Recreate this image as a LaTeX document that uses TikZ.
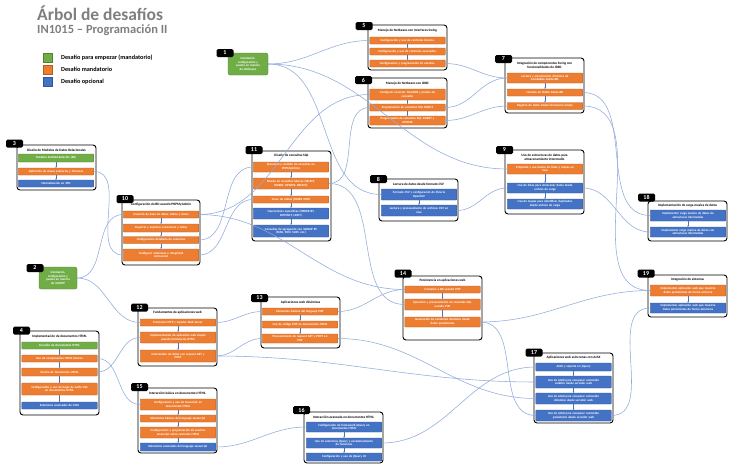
\documentclass[tikz,border=0pt]{standalone}
\usepackage{fontspec}
\setmainfont{Carlito}
\usetikzlibrary{arrows.meta}
\definecolor{orng}{HTML}{ED7D31}
\definecolor{blu}{HTML}{4472C4}
\definecolor{grn}{HTML}{70AD47}
\definecolor{lnk}{HTML}{8FAADC}
\definecolor{ttlgray}{HTML}{7F7F7F}
\newcommand\Cont[4]{\draw[cont] (#1,#2) rectangle (#3,#4);}
\begin{document}
\begin{tikzpicture}[x=1pt,y=-1pt,
 item/.style={rectangle, rounded corners=0.6pt, minimum width=75.5pt, text width=74pt, align=center, inner sep=0.4pt, text=white, font=\fontsize{3.1}{3.7}\selectfont\bfseries, line width=0.3pt},
 og/.style={item, fill=orng, draw=orng!75!black},
 bl/.style={item, fill=blu, draw=blu!75!black},
 gr/.style={item, fill=grn, draw=grn!75!black},
 cont/.style={draw=black, line width=0.9pt, rounded corners=3pt, fill=white},
 tag/.style={fill=black, rounded corners=1.5pt, text=white, font=\fontsize{6}{6}\selectfont\bfseries, minimum width=17pt, minimum height=8pt, inner sep=0pt},
 ttl/.style={font=\fontsize{3.4}{4}\selectfont\bfseries, align=center, inner sep=0pt},
 conn/.style={draw=lnk, line width=0.55pt},
 arr/.style={draw=blu, line width=0.3pt, -{Stealth[length=1.4pt,width=1.4pt]}},
 lgd/.style={anchor=west, font=\fontsize{6.2}{6.2}\selectfont\bfseries, inner sep=0pt},
 sq/.style={minimum size=9pt, inner sep=0pt, line width=0.3pt},
]
\fill[white] (0,0) rectangle (732,469);
\useasboundingbox (0,0) rectangle (732,469);

% title
\node[anchor=north west, inner sep=0pt, text=ttlgray, font=\fontsize{17.5}{17.5}\selectfont\bfseries] (title) at (37,6) {Árbol de desafíos};
\node[anchor=north west, inner sep=0pt, text=ttlgray, font=\fontsize{12.5}{12.5}\selectfont\bfseries] (subtitle) at (37,25) {IN1015 – Programación II};

% legend
\node[sq, fill=grn, draw=grn!75!black] (lg1) at (47.5,57.5) {};
\node[sq, fill=orng, draw=orng!75!black] (lg2) at (47.5,69.5) {};
\node[sq, fill=blu, draw=blu!75!black] (lg3) at (47.5,81.5) {};
\node[lgd] (lt1) at (61,57.5) {Desafío para empezar (mandatorio)};
\node[lgd] (lt2) at (61,69.5) {Desafío mandatorio};
\node[lgd] (lt3) at (61,81.5) {Desafío opcional};

% 1
\node[gr, minimum width=40pt, text width=36pt, minimum height=22pt, rounded corners=2pt] (n1) at (248,64) {Instalación,\\configuración y\\puesta en marcha\\de Netbeans};
\node[tag] (t1) at (225,53) {1};

% 2
\node[gr, minimum width=38pt, text width=36pt, minimum height=22pt, rounded corners=2pt] (n2) at (58,278) {Instalación,\\configuración y\\puesta en marcha\\de XAMPP};
\node[tag] (t2) at (35,268) {2};

% 3
\Cont{17}{145}{96}{190}
\node[ttl] (h3) at (56.5,150) {Diseño de Modelos de Datos Relacionales};
\node[gr, minimum height=8pt] (n3a) at (56,158) {Modelos Entidad-Relación (ER)};
\node[og, minimum height=7pt] (n3b) at (56,171.5) {Definición de claves primarias y foráneas};
\node[bl, minimum height=7pt] (n3c) at (56,183.5) {Normalización en 3FN};
\node[tag] (t3) at (14.5,143.5) {3};

% 4
\Cont{20}{331}{99}{415}
\node[ttl] (h4) at (59.5,337) {Implementación de documentos HTML};
\node[gr, minimum height=7pt] (n4a) at (59.5,345.5) {Creación de documentos HTML};
\node[og, minimum height=7pt] (n4b) at (59.5,358.5) {Uso de componentes HTML básicos};
\node[og, minimum height=8pt] (n4c) at (59.5,372) {Diseño de formularios HTML};
\node[og, minimum height=12pt] (n4d) at (59.5,389) {Configuración y uso de hojas de estilo CSS\\en documentos HTML};
\node[bl, minimum height=7pt] (n4e) at (59.5,405.5) {Selectores avanzados de CSS3};
\node[tag] (t4) at (21.5,330.5) {4};

% 5
\Cont{368}{25}{447}{70}
\node[ttl] (h5) at (407.5,31) {Manejo de Netbeans con Interfaces Swing};
\node[og, minimum height=7pt] (n5a) at (407.5,40.5) {Configuración y uso de controles básicos.};
\node[og, minimum height=7pt] (n5b) at (407.5,51.5) {Configuración y uso de controles avanzados.};
\node[og, minimum height=7pt] (n5c) at (407.5,63.5) {Configuración y programación de eventos.};
\node[tag] (t5) at (364,26) {5};

% 6
\Cont{368}{78}{447}{128}
\node[ttl] (h6) at (407.5,84) {Manejo de Netbeans con JDBC};
\node[og, minimum height=11pt] (n6a) at (407.5,94.5) {Configurar conector MariaDB y prueba de\\conexión};
\node[og, minimum height=7pt] (n6b) at (407.5,107.5) {Programación de consultas SQL SELECT};
\node[og, minimum height=9pt] (n6c) at (407.5,120.5) {Programación de consultas SQL INSERT y\\UPDATE};
\node[tag] (t6) at (363.5,80) {6};

% 7
\Cont{505}{58}{584}{113}
\node[ttl] (h7) at (544.5,65.5) {Integración de componentes Swing con\\funcionalidades de JDBC};
\node[og, minimum height=10pt] (n7a) at (545,78) {Lectura y actualización dinámica de\\ComboBox desde BD.};
\node[og, minimum height=7pt] (n7b) at (545,92.5) {Llenado de JTable desde BD};
\node[og, minimum height=7pt] (n7c) at (545,106) {Registro de datos desde formulario simple};
\node[tag] (t7) at (503.5,59) {7};

% 8
\Cont{379}{179}{458}{221}
\node[ttl] (h8) at (418.5,184.5) {Lectura de datos desde formato CSV};
\node[bl, minimum height=11pt] (n8a) at (419,194.5) {Formato CSV y configuración de librería\\OpenCSV};
\node[bl, minimum height=11pt] (n8b) at (419,210.5) {Lectura y procesamiento de archivos CSV en\\Java};
\node[tag] (t8) at (378.5,179) {8};

% 9
\Cont{505}{150}{584}{214}
\node[ttl] (h9) at (544.5,157) {Uso de estructuras de datos para\\almacenamiento intermedio};
\node[og, minimum height=10pt] (n9a) at (545,169) {Propósito y uso básico de listas y mapas en\\Java};
\node[bl, minimum height=10pt] (n9b) at (545,188) {Uso de listas para almacenar datos desde\\archivo de carga};
\node[bl, minimum height=10pt] (n9c) at (545,204) {Uso de mapas para identificar duplicados\\desde archivo de carga};
\node[tag] (t9) at (504.5,150) {9};

% 10
\Cont{122}{200}{200}{265}
\node[ttl] (h10) at (161,205) {Configuración de BD usando PHPMyAdmin};
\node[og, minimum height=7pt] (n10a) at (161,214.5) {Creación de base de datos, tablas y datos};
\node[og, minimum height=8pt] (n10b) at (161,228) {Importar y exportar estructuras y datos};
\node[og, minimum height=7pt] (n10c) at (161,240) {Configuración detallada de columnas};
\node[og, minimum height=12pt] (n10d) at (161,255) {Configurar relaciones e integridad\\referencial};
\node[tag] (t10) at (125,199) {10};

% 11
\Cont{252}{151}{331}{241}
\node[ttl] (h11) at (291.5,156) {Diseño de consultas SQL};
\node[og, minimum height=10pt] (n11a) at (291,167) {Ejecución y revisión de consultas en\\PHPMyAdmin};
\node[og, minimum height=11pt] (n11b) at (291,183.5) {Diseño de consultas básicas (SELECT,\\INSERT, UPDATE, DELETE)};
\node[og, minimum height=7pt] (n11c) at (291,199.5) {Cruce de tablas (INNER JOIN)};
\node[bl, minimum height=11pt] (n11d) at (291,213.5) {Operaciones específicas (ORDER BY,\\DISTINCT, LIMIT)};
\node[bl, minimum height=12pt] (n11e) at (291,231) {Consultas de agregación con GROUP BY\\(MAX, MIN, SUM, etc.)};
\node[tag] (t11) at (254,150) {11};

% 12
\Cont{138}{308}{217}{366}
\node[ttl] (h12) at (177.5,313) {Fundamentos de aplicaciones web};
\node[og, minimum height=7pt] (n12a) at (178,322.5) {Protocolo HTTP y Apache Web Server};
\node[og, minimum height=11pt] (n12b) at (178,337.5) {Implementación de aplicación web simple\\usando formularios HTML};
\node[og, minimum height=12pt] (n12c) at (178,356) {Intercambio de datos con request GET y\\POST};
\node[tag] (t12) at (139.5,307.5) {12};

% 13
\Cont{261}{297}{340}{348}
\node[ttl] (h13) at (300.5,302.5) {Aplicaciones web dinámicas};
\node[og, minimum height=7pt] (n13a) at (300,311.5) {Elementos básicos del lenguaje PHP};
\node[og, minimum height=7pt] (n13b) at (300,324.5) {Uso de código PHP en documentos HTML};
\node[og, minimum height=9pt] (n13c) at (300,338.5) {Procesamiento de request GET y POST en\\PHP};
\node[tag] (t13) at (259.5,298) {13};

% 14
\Cont{403}{276}{482}{340}
\node[ttl] (h14) at (442.5,281) {Persistencia en aplicaciones web};
\node[og, minimum height=7pt] (n14a) at (442.5,289.5) {Conexión a BD usando PHP};
\node[og, minimum height=11pt] (n14b) at (442.5,304.5) {Ejecución y procesamiento de consultas SQL\\usando PHP};
\node[og, minimum height=10pt] (n14c) at (442.5,322) {Generación de contenido dinámico desde\\datos persistentes};
\node[tag] (t14) at (403,273.5) {14};

% 15
\Cont{138}{388}{217}{453}
\node[ttl] (h15) at (177.5,393) {Interacción básica en documentos HTML};
\node[og, minimum height=11pt] (n15a) at (178,404.5) {Configuración y uso de Javascript en\\documentos HTML};
\node[og, minimum height=7pt] (n15b) at (178,418.5) {Elementos básicos del lenguaje Javascript};
\node[og, minimum height=11pt] (n15c) at (178,432.5) {Configuración y programación de eventos\\Javascript sobre controles HTML};
\node[bl, minimum height=8pt] (n15d) at (178,447) {Elementos avanzados del lenguaje Javascript};
\node[tag] (t15) at (139.5,387) {15};

% 16
\Cont{304}{412}{383}{463}
\node[ttl] (h16) at (343.5,417) {Interacción avanzada en documentos HTML};
\node[bl, minimum height=10pt] (n16a) at (344,427) {Configuración de framework jQuery en\\documentos HTML};
\node[bl, minimum height=10pt] (n16b) at (344,443) {Uso de selectores jQuery y encadenamiento\\de funciones};
\node[bl, minimum height=8pt] (n16c) at (344,457) {Configuración y uso de jQuery UI};
\node[tag] (t16) at (301.5,410) {16};

% 17
\Cont{534}{353}{613}{423}
\node[ttl] (h17) at (573.5,358) {Aplicaciones web asíncronas con AJAX};
\node[bl, minimum height=8pt] (n17a) at (573.5,367) {AJAX y soporte en jQuery};
\node[bl, minimum height=12pt] (n17b) at (573.5,382) {Uso de AJAX para recuperar contenido\\estático desde servidor web};
\node[bl, minimum height=11pt] (n17c) at (573.5,398.5) {Uso de AJAX para recuperar contenido\\dinámico desde servidor web};
\node[bl, minimum height=11pt] (n17d) at (573.5,415.5) {Uso de AJAX para recuperar contenido\\persistente desde servidor web};
\node[tag] (t17) at (534,352.5) {17};

% 18
\Cont{648}{201}{727}{241}
\node[ttl] (h18) at (687.5,206) {Implementación de carga masiva de datos};
\node[bl, minimum height=11pt] (n18a) at (688,215.5) {Implementar carga masiva de datos de\\estructuras intermedias};
\node[bl, minimum height=10pt] (n18b) at (688,232) {Implementar carga masiva de datos con\\estructuras intermedias};
\node[tag] (t18) at (646.5,197.5) {18};

% 19
\Cont{648}{275}{727}{317}
\node[ttl] (h19) at (687.5,280) {Integración de sistemas};
\node[og, minimum height=11pt] (n19a) at (688,290.5) {Implementar aplicación web que muestre\\datos persistentes de forma síncrona};
\node[bl, minimum height=10pt] (n19b) at (688,308) {Implementar aplicación web que muestre\\datos persistentes de forma asíncrona};
\node[tag] (t19) at (646,273.5) {19};

% inner arrows
\foreach \a/\b in {n3a/n3b,n3b/n3c,n4a/n4b,n4b/n4c,n4c/n4d,n4d/n4e,n5a/n5b,n5b/n5c,n6a/n6b,n6b/n6c,n7a/n7b,n7b/n7c,n8a/n8b,n9a/n9b,n9b/n9c,n10a/n10b,n10b/n10c,n10c/n10d,n11a/n11b,n11b/n11c,n11c/n11d,n11d/n11e,n12a/n12b,n12b/n12c,n13a/n13b,n13b/n13c,n14a/n14b,n14b/n14c,n15a/n15b,n15b/n15c,n15c/n15d,n16a/n16b,n16b/n16c,n17a/n17b,n17b/n17c,n17c/n17d,n18a/n18b,n19a/n19b}
  \draw[arr] (\a.south) -- (\b.north);

% connectors
\foreach \a/\b in {n1/n5a,n1/n8a,n1/n9a,n10a/n6a,n11b/n6b,n5c/n7a,n6b/n7a,n6c/n7c,n8b/n9b,n9b/n18b,n7b/n18a,n7c/n19a,n3b/n10d,n2/n10a,n2/n12a,n10c/n11a,n10d/n11c,n10a/n14a,n4b/n15a,n4c/n12b,n12a/n13a,n12c/n13c,n13a/n14a,n11b/n14b,n15d/n16a,n16b/n17a,n12c/n17b,n13c/n17c,n14c/n19a,n14c/n17d,n17d/n19b}
  \draw[conn] (\a.east) to[out=0,in=180] (\b.west);
\end{tikzpicture}
\end{document}
